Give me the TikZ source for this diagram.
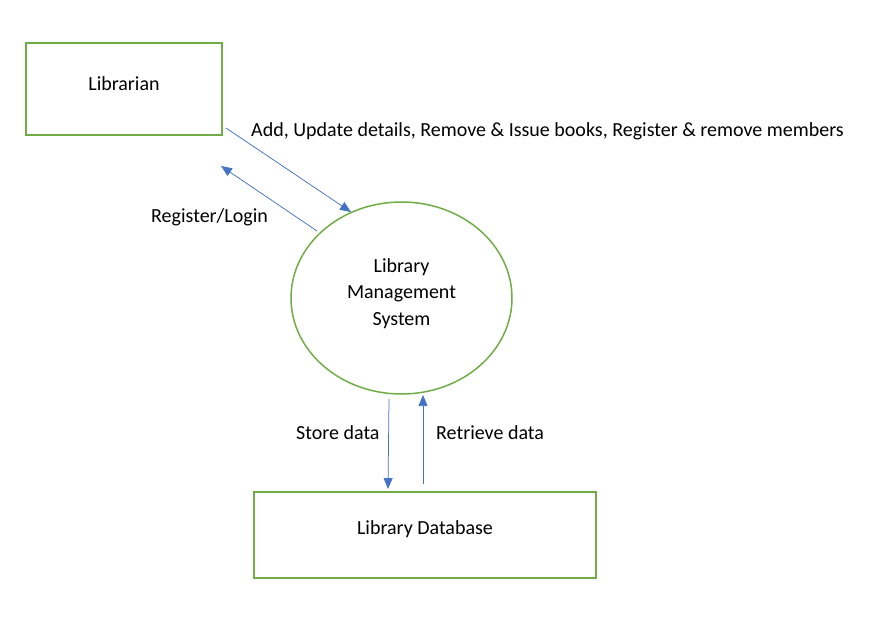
\documentclass[tikz,border=0pt]{standalone}
\usepackage{fontspec}
\setmainfont{Carlito}
\usetikzlibrary{arrows.meta,shapes.geometric}
\definecolor{boxgreen}{HTML}{70AD47}
\definecolor{arrowblue}{HTML}{4472C4}
\tikzset{
  entity/.style={draw=boxgreen, line width=1.5pt, minimum width=196pt, minimum height=92pt, inner sep=0pt},
  proc/.style={draw=boxgreen, line width=1.5pt, ellipse, minimum width=221pt, minimum height=192pt, inner sep=0pt},
  flow/.style={draw=arrowblue, line width=0.75pt, -{Triangle[length=11pt,width=9pt]}},
  lbl/.style={inner sep=0pt, anchor=west},
  every node/.style={font=\fontsize{20}{26.5}\selectfont}
}
\begin{document}
\begin{tikzpicture}[x=1pt,y=-1pt]
\useasboundingbox (0,0) rectangle (884,638);
\node[entity] (lib) at (124,89) {};
\node at (124,83.5) (libt) {Librarian};
\node[proc] (lms) at (401.5,298) {};
\node[align=center] (lmst) at (401.5,293.5) {Library\\Management\\System};
\node[entity, minimum width=342pt, minimum height=86pt] (db) at (425,535) {};
\node at (425,529.5) (dbt) {Library Database};
\coordinate (a1s) at (226,128);
\coordinate (a1e) at (351,212);
\coordinate (a2s) at (317,231);
\coordinate (a2e) at (221,166);
\coordinate (a3s) at (389,399);
\coordinate (a3e) at (388,489);
\coordinate (a4s) at (423,484);
\coordinate (a4e) at (423,395);
\draw[flow] (a1s) -- (a1e);
\draw[flow] (a2s) -- (a2e);
\draw[flow] (a3s) -- (a3e);
\draw[flow] (a4s) -- (a4e);
\node[lbl] (l1) at (251,131.5) {Add, Update details, Remove \& Issue books, Register \& remove members};
\node[lbl] (l2) at (151,217.5) {Register/Login};
\node[lbl] (l3) at (296,432.5) {Store data};
\node[lbl] (l4) at (436,432.5) {Retrieve data};
\end{tikzpicture}
\end{document}
